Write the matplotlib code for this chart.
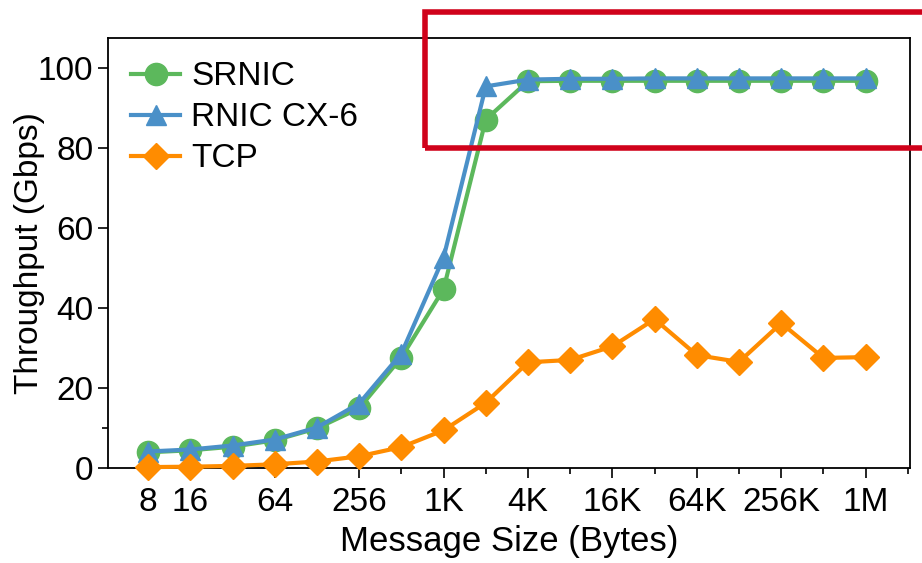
import numpy as np
import matplotlib.pyplot as plt
import matplotlib.patches as patches
from matplotlib.ticker import FixedLocator, NullFormatter

plt.rcParams['font.family'] = ['Liberation Sans', 'DejaVu Sans']

# message sizes 8 B .. 1 MB
sizes = [2 ** k for k in range(3, 21)]
tick_sizes = [8, 16, 64, 256, 1024, 4096, 16384, 65536, 262144, 1048576]
tick_labels = ['8', '16', '64', '256', '1K', '4K', '16K', '64K', '256K', '1M']

srnic = [3.8, 4.3, 5.2, 6.8, 9.8, 14.8, 27.5, 44.6, 87.0, 96.6,
         96.7, 96.7, 96.7, 96.7, 96.7, 96.7, 96.7, 96.7]
rnic_cx6 = [4.0, 4.5, 5.5, 7.0, 10.0, 16.0, 28.5, 52.5, 95.3, 97.0,
            97.2, 97.2, 97.3, 97.3, 97.3, 97.3, 97.3, 97.3]
tcp = [0.1, 0.2, 0.4, 0.8, 1.5, 2.8, 5.1, 9.3, 16.2, 26.3,
       26.9, 30.3, 37.1, 28.1, 26.4, 36.1, 27.4, 27.6]

fig = plt.figure(figsize=(9.22, 5.63), dpi=100)
ax = fig.add_axes([108 / 922, 1 - 467.5 / 563, (910 - 108) / 922, (467.5 - 38) / 563])

ax.plot(sizes, srnic, color='#5CB85C', marker='o', markersize=16,
        linewidth=3, label='SRNIC', clip_on=False, zorder=3)
ax.plot(sizes, rnic_cx6, color='#4A90C8', marker='^', markersize=15,
        linewidth=3, label='RNIC CX-6', clip_on=False, zorder=4)
ax.plot(sizes, tcp, color='#FF8C00', marker='D', markersize=13,
        linewidth=3, label='TCP', clip_on=False, zorder=5)

ax.set_xscale('log', base=2)
ax.set_xlim(2 ** 2.05, 2 ** 21.05)
ax.set_ylim(0, 107.4)

ax.xaxis.set_major_locator(FixedLocator(tick_sizes))
ax.set_xticklabels(tick_labels)
ax.xaxis.set_minor_locator(FixedLocator([32, 128, 512, 2048, 8192, 32768,
                                         131072, 524288, 2097152]))
ax.xaxis.set_minor_formatter(NullFormatter())
ax.set_yticks([0, 20, 40, 60, 80, 100])
ax.yaxis.set_minor_locator(FixedLocator([10]))

ax.tick_params(axis='both', which='major', labelsize=24, length=7,
               width=1.2, direction='out', colors='black')
ax.tick_params(axis='x', which='major', pad=7)
ax.tick_params(axis='both', which='minor', length=4, width=1.2)
for s in ax.spines.values():
    s.set_linewidth(1.3)

ax.set_xlabel('Message Size (Bytes)', fontsize=25, labelpad=5)
ax.set_ylabel('Throughput (Gbps)', fontsize=24, labelpad=-5)

ax.legend(loc='upper left', fontsize=24, frameon=False,
          handlelength=1.45, handletextpad=0.35, labelspacing=0.3,
          borderaxespad=0.3, bbox_to_anchor=(0.0, 1.0))

# highlight box around the saturation region
rect = patches.Rectangle(
    xy=(424.5 / 922, 1 - 148 / 563),
    width=0.6,
    height=(148 - 12) / 563,
    transform=fig.transFigure,
    linewidth=4,
    edgecolor='#D0021B',
    facecolor='none',
    clip_on=False,
    zorder=10)
fig.patches.append(rect)

plt.savefig('out.png', dpi=100)
plt.close(fig)
